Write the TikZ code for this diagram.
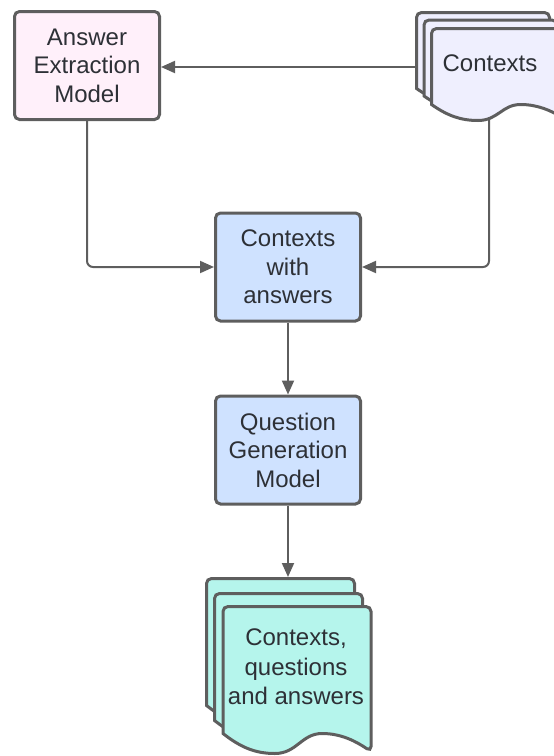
\documentclass[tikz,border=0pt]{standalone}
\usepackage{fontspec}
\setmainfont{Liberation Sans}
\usepackage{tikz}
\usetikzlibrary{positioning}
\usetikzlibrary{arrows.meta}
\definecolor{linegray}{HTML}{5E5E5E}
\definecolor{textgray}{HTML}{2D3036}
\definecolor{aepink}{HTML}{FFF0FA}
\definecolor{boxblue}{HTML}{CFE2FF}
\definecolor{ctxlav}{HTML}{EFEFFE}
\definecolor{cqateal}{HTML}{B5F5EC}
\tikzset{box/.style = {draw=linegray, line width=3pt, rounded corners=5pt,
                       minimum width=145pt, minimum height=108pt, align=center,
                       text=textgray, font=\fontsize{24}{28.5}\selectfont},
         doctext/.style = {align=center, text=textgray, font=\fontsize{24}{29.5}\selectfont},
         sheet/.style = {draw=linegray, line width=3pt},
         link/.style = {draw=linegray, line width=2pt, rounded corners=6pt,
                        -{Triangle[length=14pt, width=12pt]}}}
% x, y, width, height to left foot, wave depth, fill
\newcommand{\docsheet}[6]{%
  \draw[sheet, fill=#6] ({#1},{#2+#4}) [rounded corners=5pt] -- ({#1},{#2}) -- ({#1+#3},{#2})
      -- ({#1+#3},{#2+#4+0.9*#5}) [sharp corners]
      .. controls ({#1+0.9*#3},{#2+#4+0.4*#5}) and ({#1+0.8*#3},{#2+#4}) .. ({#1+0.67*#3},{#2+#4})
      .. controls ({#1+0.53*#3},{#2+#4}) and ({#1+0.5*#3},{#2+#4+#5}) .. ({#1+0.35*#3},{#2+#4+#5})
      .. controls ({#1+0.22*#3},{#2+#4+#5}) and ({#1+0.12*#3},{#2+#4+0.7*#5}) .. ({#1},{#2+#4}) -- cycle;}

\begin{document}
\begin{tikzpicture}[x=1pt, y=-1pt]
  \useasboundingbox (0,0) rectangle (554,756);

  \node[box, fill=aepink] (ae) at (87,65.5) {Answer\\Extraction\\Model};
  \node[box, fill=boxblue] (cwa) at (288,267) {Contexts\\with\\answers};
  \node[box, fill=boxblue] (qg) at (288,450) {Question\\Generation\\Model};

  \docsheet{416.5}{12.5}{133}{76}{16}{ctxlav}
  \docsheet{424}{20}{133}{76}{16}{ctxlav}
  \docsheet{431.5}{28.5}{133}{76}{16}{ctxlav}
  \node[doctext] (ctx) at (490,63) {Contexts};

  \docsheet{206.5}{578.5}{148}{127}{20}{cqateal}
  \docsheet{214.5}{593.5}{148}{127}{20}{cqateal}
  \docsheet{223}{606.5}{148}{127}{20}{cqateal}
  \node[doctext] (cqa) at (296,667) {Contexts,\\questions\\and answers};

  \coordinate (ctxback) at (415,67);
  \coordinate (ctxfoot) at (489,117);
  \coordinate (cqatop) at (288,577);

  \draw[link] (ctxback) -- (ae.east |- ctxback);
  \draw[link] (ae.south) |- (cwa.west);
  \draw[link] (ctxfoot) |- (cwa.east);
  \draw[link] (cwa) -- (qg);
  \draw[link] (qg) -- (cqatop);
\end{tikzpicture}
\end{document}
